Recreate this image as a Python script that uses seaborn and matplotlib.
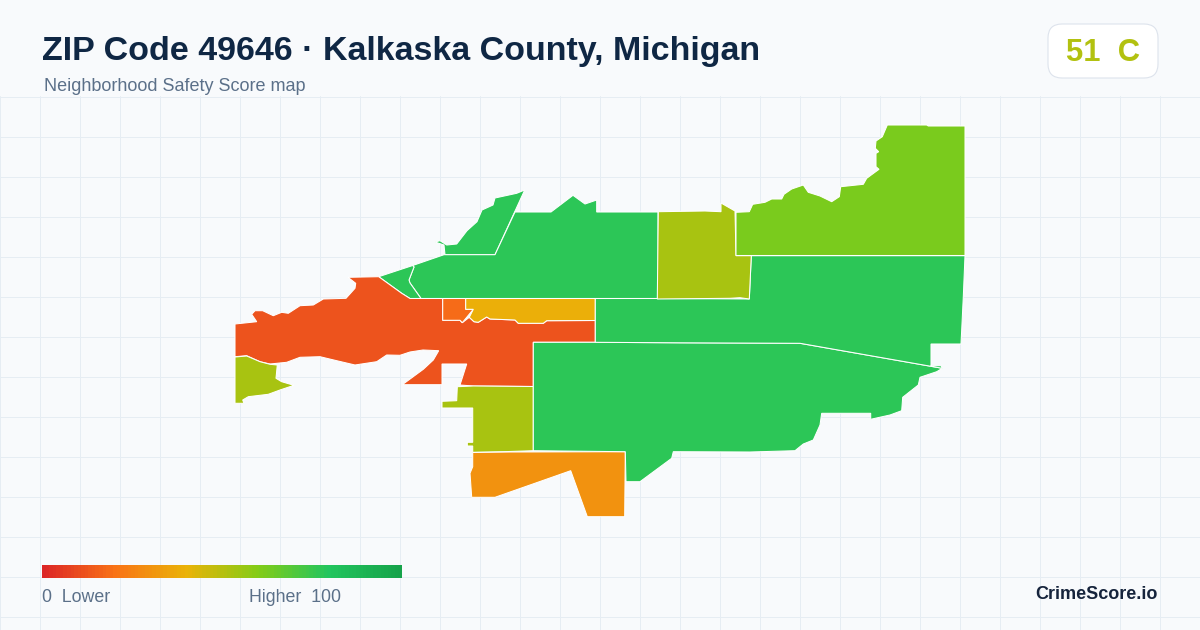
import numpy as np
import seaborn as sns
import matplotlib.pyplot as plt
from matplotlib.colors import LinearSegmentedColormap
from matplotlib.patches import FancyBboxPatch

# Score ramp used by the map and the legend
ramp_colors = ["#dc2626", "#f97316", "#eab308", "#84cc16", "#22c55e", "#16a34a"]

zip_score = 51
zip_grade = "C"

north_sliver = [(524.7, 190), (516.7, 193.3), (495, 198), (493, 205), (482, 210), (477, 221.7),
                (467, 230.7), (456.7, 244), (446.7, 245), (440, 240.7), (435, 242), (444, 245),
                (445, 254.7), (495, 254.7)]
north_main = [(515, 212), (551, 212), (573, 195.3), (585, 204), (596.7, 200), (596.7, 212),
              (658, 212), (658, 298.5), (421, 298.5), (410, 283), (409, 280), (414, 267),
              (412.7, 265.5), (444, 254.7), (495, 254.7)]
west_wedge = [(378.7, 276.7), (412.7, 265.5), (414, 267), (409, 280), (410, 283), (421, 298.5),
              (410, 298.5), (401.7, 293.3)]
central_red = [(348, 277.3), (378.7, 276.7), (401.7, 293.3), (410, 298.5), (442.7, 298.5),
               (442.7, 320.3), (460, 320.3), (462.3, 322.7), (469.3, 317.3), (474, 321.7),
               (478.3, 322.3), (486.7, 317), (490, 319), (515, 320), (518.3, 323.3),
               (543.3, 323.3), (546.7, 320.7), (595.3, 320.5), (595.3, 342.3), (533.3, 342.3),
               (533.3, 386.5), (473.3, 386), (460, 385), (466.7, 364), (442, 364), (442, 384.7),
               (402.3, 384.7), (423.3, 369.3), (433.3, 360), (438.7, 350.7), (423, 350),
               (410, 352), (400, 355.3), (386.7, 355), (376.7, 361.7), (355, 365), (336.7, 360.7),
               (320, 356.7), (300, 357.3), (286.7, 362.3), (270, 364), (260, 361.7),
               (246.7, 355.7), (235, 356.7), (235, 324), (256.7, 321.7), (251.7, 314.3),
               (255, 310.7), (262.7, 310.7), (273.3, 315.7), (281.7, 312.3), (288.3, 313.3),
               (300, 305.7), (313.3, 305), (323.3, 299), (346, 298.3), (355, 288.3),
               (355.7, 283.3)]
town_orange = [(442.7, 298.5), (465.7, 298.5), (465.7, 309.3), (473.3, 309.3), (462.3, 322.7),
               (460, 320.3), (442.7, 320.3)]
town_amber = [(465.7, 298.5), (595.3, 298.5), (595.3, 320.5), (546.7, 320.7), (543.3, 323.3),
              (518.3, 323.3), (515, 320), (490, 319), (486.7, 317), (478.3, 322.3), (474, 321.7),
              (469.3, 317.3), (473.3, 309.3), (465.7, 309.3)]
west_olive = [(235, 357), (246.7, 356), (260, 361.7), (270, 364.3), (277.3, 365), (276, 378.3),
              (281.7, 381.7), (294, 385.3), (280, 390), (268.3, 394.3), (248.3, 396.7),
              (242.7, 400), (244, 403.3), (235, 403.3)]
south_olive = [(457.3, 386.7), (473.3, 386), (533.3, 386.5), (533.3, 450.7), (503.3, 451.7),
               (472.7, 452.3), (472.7, 446), (467.3, 446), (467.3, 442.3), (472.7, 442.3),
               (472.7, 408), (442, 408), (442, 401.3), (456.7, 400.7)]
south_orange = [(472.7, 452.5), (510, 452), (625.3, 451.7), (624.7, 516.7), (587.3, 516.7),
                (570.7, 470.7), (495, 497.3), (471.7, 497.3), (470, 473.3), (472.7, 466.7)]
central_green = [(533.3, 342.3), (595.3, 342.3), (680, 342.8), (800, 343.3), (942.3, 368.3),
                 (936.7, 371.7), (920, 377.3), (918.3, 385), (902.7, 397.3), (901.7, 410.7),
                 (890, 415), (870.7, 419.3), (870.7, 413.3), (821.7, 413.3), (820, 425),
                 (813.3, 440), (803.3, 444), (795, 450.7), (750, 452), (673.3, 451.7),
                 (671.7, 458.3), (640, 481.7), (626, 481.7), (625.3, 451.7), (533.3, 450.7)]
east_green = [(595.3, 298.5), (658, 298.5), (749.3, 299), (751.3, 255.7), (965, 255.7),
              (963.3, 296.7), (961.7, 330), (961, 344), (931, 344), (931, 365.7), (941, 365.7),
              (942.3, 368.3), (800, 343.3), (680, 342.8), (595.3, 342.3)]
north_olive = [(658.3, 211.7), (705, 211), (721, 211.7), (721, 203), (735, 211), (736, 255.7),
               (751.3, 255.7), (749.3, 299), (740, 297.7), (730, 298.3), (657.3, 299)]
northeast_lime = [(736, 212.3), (749.3, 211.7), (752.7, 204.3), (765, 202.3), (771.7, 199),
                  (781.7, 199), (784, 194.3), (791.7, 189), (803.3, 185), (808.3, 192.3),
                  (820, 196), (831.7, 201.7), (839.3, 196.7), (840.7, 186.7), (863.3, 184.3),
                  (866.7, 178.3), (879, 169.3), (876, 166.7), (876, 153.3), (878.7, 151.7),
                  (875.3, 148.3), (876, 141), (882.3, 136.7), (887.3, 125), (926.7, 125),
                  (928.3, 126), (965, 126), (965, 255.5), (815, 255.5), (736, 255.5)]

areas = [north_sliver, north_main, west_wedge, central_red, town_orange, town_amber, west_olive,
         south_olive, south_orange, central_green, east_green, north_olive, northeast_lime]
area_scores = [78, 78, 78, 12, 18, 39, 53, 53, 30, 78, 78, 53, 62]

sns.set_theme(style="white")
plt.rcParams["font.family"] = ["Liberation Sans", "DejaVu Sans"]

score_cmap = LinearSegmentedColormap.from_list("score", ramp_colors)

fig = plt.figure(figsize=(12, 6.3), dpi=100, facecolor="#f8fafc")

# Map panel, the grid starts below the header
ax = fig.add_axes([0, 0, 1, 534 / 630], facecolor="#f8fafc")
ax.set_xlim(0, 1200)
ax.set_ylim(630, 96)
ax.set_xticks(np.arange(0, 1201, 40))
ax.set_yticks(np.arange(97, 630, 40))
ax.tick_params(length=0, labelbottom=False, labelleft=False)
ax.grid(True, color="#e6edf3", linewidth=0.72)
ax.set_axisbelow(True)
sns.despine(ax=ax, left=True, bottom=True)

for outline, score in zip(areas, area_scores):
    xs, ys = zip(*outline)
    ax.fill(xs, ys, facecolor=score_cmap(score / 100), edgecolor="white", linewidth=0.75, zorder=3)

# Header
fig.text(42 / 1200, 1 - 60 / 630, "ZIP Code 49646 · Kalkaska County, Michigan",
         fontsize=24.5, fontweight="bold", color="#0f2744")
fig.text(44 / 1200, 1 - 91 / 630, "Neighborhood Safety Score map", fontsize=12.95, color="#5b7089")

badge_ax = fig.add_axes([0, 0, 1, 1], facecolor="none")
badge_ax.set_xlim(0, 1200)
badge_ax.set_ylim(630, 0)
badge_ax.axis("off")
badge_ax.add_patch(FancyBboxPatch((1048, 24), 110, 54, boxstyle="round,pad=0,rounding_size=14",
                                  facecolor="white", edgecolor="#dde3ec", linewidth=0.8))
badge_ax.text(1066, 61, f"{zip_score}  {zip_grade}", fontsize=22.3, fontweight="bold",
              color=score_cmap(zip_score / 100))

# Legend ramp
legend_ax = fig.add_axes([42 / 1200, 1 - 578 / 630, 360 / 1200, 13 / 630])
ramp = np.arange(0, 101).reshape(1, -1)
sns.heatmap(ramp, ax=legend_ax, cmap=score_cmap, cbar=False, xticklabels=False, yticklabels=False,
            vmin=0, vmax=100)

fig.text(42 / 1200, 1 - 602 / 630, "0  Lower", fontsize=12.8, color="#5b7089")
fig.text(249 / 1200, 1 - 602 / 630, "Higher  100", fontsize=12.8, color="#5b7089")
fig.text(1158 / 1200, 1 - 599 / 630, "CrimeScore.io", fontsize=13, fontweight="bold",
         color="#16243c", ha="right")

plt.savefig("out.png", dpi=100, facecolor=fig.get_facecolor())
plt.close()
